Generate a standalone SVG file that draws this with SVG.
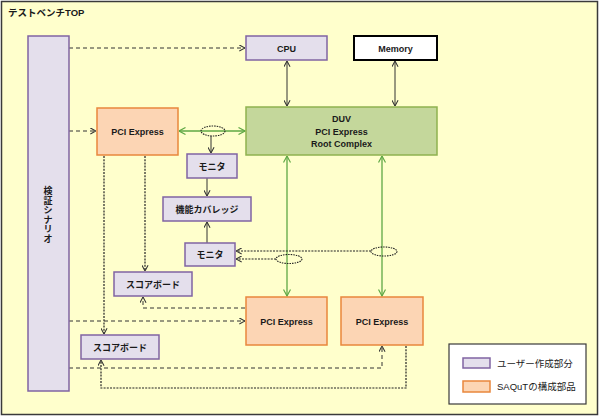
<svg xmlns="http://www.w3.org/2000/svg" width="600" height="417" viewBox="0 0 600 417">
<defs>
<style>
.t{font-family:"Liberation Sans","Noto Sans CJK JP",sans-serif;font-size:9px;font-weight:bold;fill:#1a1a1a;text-anchor:middle}
.lg{font-family:"Liberation Sans","Noto Sans CJK JP",sans-serif;font-size:9.5px;fill:#1a1a1a}
.usr{fill:#E4DFEC;stroke:#8064A2;stroke-width:1.5}
.saq{fill:#FCD5B4;stroke:#E9873D;stroke-width:1.5}
.duv{fill:#C4D79B;stroke:#8FB24F;stroke-width:1.5}
.c{fill:none;stroke:#333;stroke-width:1}
.dash{stroke-dasharray:4,3}
.dot{stroke:#222;stroke-width:1.2;stroke-dasharray:2,1.2}
.g{fill:none;stroke:#5FA845;stroke-width:1.3}
.el{fill:none;stroke:#222;stroke-width:1.1;stroke-dasharray:1.5,1}
</style>
<marker id="a" viewBox="0 0 8 8" refX="7.5" refY="4" markerWidth="7" markerHeight="7" markerUnits="userSpaceOnUse" orient="auto-start-reverse">
<path d="M1,0.5 L7.5,4 L1,7.5" fill="none" stroke="#333" stroke-width="1.2"/>
</marker>
<marker id="ag" viewBox="0 0 8 8" refX="7.5" refY="4" markerWidth="8" markerHeight="8" markerUnits="userSpaceOnUse" orient="auto-start-reverse">
<path d="M1,0.5 L7.5,4 L1,7.5" fill="none" stroke="#5FA845" stroke-width="1.2"/>
</marker>
</defs>
<rect x="1.5" y="1.5" width="596" height="413" fill="#FFFFCC" stroke="#3a3a3a" stroke-width="1.5"/>
<text x="8" y="15.5" class="t" style="text-anchor:start;font-size:9.5px">テストベンチTOP</text>

<g id="connectors">
<path class="c dash" d="M69,48 H245" marker-end="url(#a)"/>
<path class="c dash" d="M69,131 H96" marker-end="url(#a)"/>
<path class="c" d="M287,61 V106" marker-start="url(#a)" marker-end="url(#a)"/>
<path class="c" d="M395,61 V106" marker-start="url(#a)" marker-end="url(#a)"/>
<path class="g" d="M179,131 H245" marker-start="url(#ag)" marker-end="url(#ag)"/>
<ellipse class="el" cx="213" cy="131" rx="12" ry="5"/>
<path class="c" d="M211,136 V153" marker-end="url(#a)"/>
<path class="c" d="M207,178 V196" marker-end="url(#a)"/>
<path class="c" d="M207,243 V222" marker-end="url(#a)"/>
<path class="g" d="M287,156 V296" marker-start="url(#ag)" marker-end="url(#ag)"/>
<path class="g" d="M382,156 V296" marker-start="url(#ag)" marker-end="url(#ag)"/>
<ellipse class="el" cx="384" cy="251.5" rx="13" ry="4.5"/>
<ellipse class="el" cx="289" cy="259" rx="13" ry="4.5"/>
<path class="c dot" d="M371,251 H236" marker-end="url(#a)"/>
<path class="c dot" d="M276,259 H236" marker-end="url(#a)"/>
<path class="c dot" d="M104,156 V334" marker-end="url(#a)"/>
<path class="c dot" d="M145,156 V271" marker-end="url(#a)"/>
<path class="c dash" d="M245,308 H143 V297" marker-end="url(#a)"/>
<path class="c dash" d="M69,321 H245" marker-end="url(#a)"/>
<path class="c dash" d="M69,368 H382 V346" marker-end="url(#a)"/>
<path class="c dot" d="M406,346 V388 H101 V360" marker-end="url(#a)"/>
</g>

<g id="scenario">
<rect class="usr" x="28" y="36" width="41" height="355"/>
<text class="t" x="48"><tspan x="48" y="194">検</tspan><tspan x="48" y="203.5">証</tspan><tspan x="48" y="213">シ</tspan><tspan x="48" y="222.5">ナ</tspan><tspan x="48" y="232">リ</tspan><tspan x="48" y="241.5">オ</tspan></text>
</g>
<g id="cpu">
<rect class="usr" x="246" y="36" width="81" height="24"/>
<text class="t" x="286.5" y="51.5">CPU</text>
</g>
<g id="memory">
<rect x="354" y="36" width="83" height="24" fill="#FFFFFF" stroke="#000" stroke-width="2"/>
<text class="t" x="395.5" y="51.5">Memory</text>
</g>
<g id="duv">
<rect class="duv" x="246" y="107" width="191" height="48"/>
<text class="t" x="341.5" y="122">DUV</text>
<text class="t" x="341.5" y="134.5">PCI Express</text>
<text class="t" x="341.5" y="147">Root Complex</text>
</g>
<g id="pcie-left">
<rect class="saq" x="97" y="108" width="81" height="47"/>
<text class="t" x="137.5" y="134.5">PCI Express</text>
</g>
<g id="monitor1">
<rect class="usr" x="187" y="154" width="50" height="24"/>
<text class="t" x="212" y="169.5">モニタ</text>
</g>
<g id="coverage">
<rect class="usr" x="163" y="197" width="88" height="24"/>
<text class="t" x="207" y="212.5">機能カバレッジ</text>
</g>
<g id="monitor2">
<rect class="usr" x="185" y="243" width="50" height="23"/>
<text class="t" x="210" y="258">モニタ</text>
</g>
<g id="scoreboard1">
<rect class="usr" x="114" y="272" width="78" height="24"/>
<text class="t" x="153" y="287.5">スコアボード</text>
</g>
<g id="scoreboard2">
<rect class="usr" x="81" y="335" width="78" height="24"/>
<text class="t" x="120" y="350.5">スコアボード</text>
</g>
<g id="pcie-mid">
<rect class="saq" x="246" y="297" width="81" height="48"/>
<text class="t" x="286.5" y="324.5">PCI Express</text>
</g>
<g id="pcie-right">
<rect class="saq" x="341" y="297" width="82" height="48"/>
<text class="t" x="382" y="324.5">PCI Express</text>
</g>
<g id="legend">
<rect x="449" y="344" width="137" height="60" fill="#FFFFFF" stroke="#3a3a3a" stroke-width="1.2"/>
<rect class="usr" x="463" y="358" width="27" height="10"/>
<text class="lg" x="497" y="366.5">ユーザー作成部分</text>
<rect class="saq" x="463" y="381" width="27" height="11"/>
<text class="lg" x="497" y="389.5">SAQuTの構成部品</text>
</g>
</svg>
